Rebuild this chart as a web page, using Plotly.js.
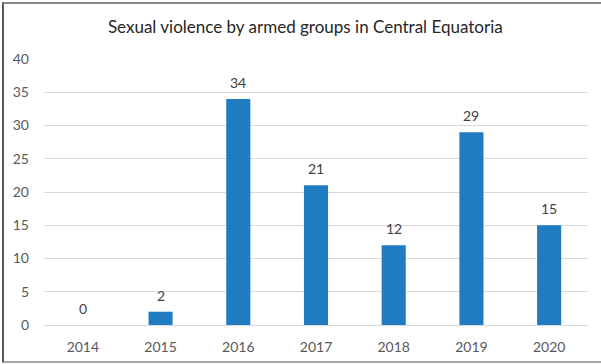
<!DOCTYPE html>
<html><head><meta charset="utf-8">
<script src="https://cdn.plot.ly/plotly-3.0.1.min.js"></script>
<style>
html,body{margin:0;padding:0;background:#fff;overflow:hidden;}
#chart{width:601px;height:364px;}
#frame{position:absolute;left:2px;top:2px;width:620px;height:357px;border-left:2px solid #555;border-top:2px solid #8a8a8a;border-bottom:2px solid #a8a8a8;pointer-events:none;}
</style></head>
<body>
<div id="chart"></div>
<div id="frame"></div>
<script>
const years = ['2014','2015','2016','2017','2018','2019','2020'];
const cases = [0, 2, 34, 21, 12, 29, 15];
const yTicks = [0, 5, 10, 15, 20, 25, 30, 35, 40];

const fontFam = 'Lato, "Open Sans", sans-serif';
const trace = {
  type: 'bar', x: years, y: cases,
  marker: {color: '#1f7cc3'},
  hoverinfo: 'none'
};
const annotations = years.map((yr, i) => ({
  x: i, y: cases[i], xref: 'x', yref: 'y',
  text: String(cases[i]), showarrow: false,
  yanchor: 'bottom', yshift: 6,
  font: {family: fontFam, size: 14, color: '#404040'}
}));
const layout = {
  width: 601, height: 364,
  margin: {l: 44, r: 13, t: 59, b: 39},
  paper_bgcolor: '#fff', plot_bgcolor: '#fff',
  bargap: 0.69,
  showlegend: false,
  title: {text: 'Sexual violence by armed groups in Central Equatoria',
    x: 0.508, xref: 'container', xanchor: 'center', y: 0.925, yref: 'container', yanchor: 'middle',
    font: {family: fontFam, size: 17, color: '#262626'}},
  xaxis: {type: 'category', range: [-0.5, 6.5], showgrid: false, zeroline: false, showline: false,
    ticks: '', ticklabelstandoff: 12, tickfont: {family: fontFam, size: 14, color: '#595959'}},
  yaxis: {range: [0, 40], tickvals: yTicks, ticktext: yTicks.map(String),
    showgrid: true, gridcolor: '#d9d9d9', gridwidth: 1,
    zeroline: true, zerolinecolor: '#d9d9d9', zerolinewidth: 1,
    showline: false, ticks: '', ticklabelstandoff: 14,
    tickfont: {family: fontFam, size: 14, color: '#595959'}},
  annotations: annotations
};
Plotly.newPlot('chart', [trace], layout, {staticPlot: true, displayModeBar: false});
</script>
</body></html>
